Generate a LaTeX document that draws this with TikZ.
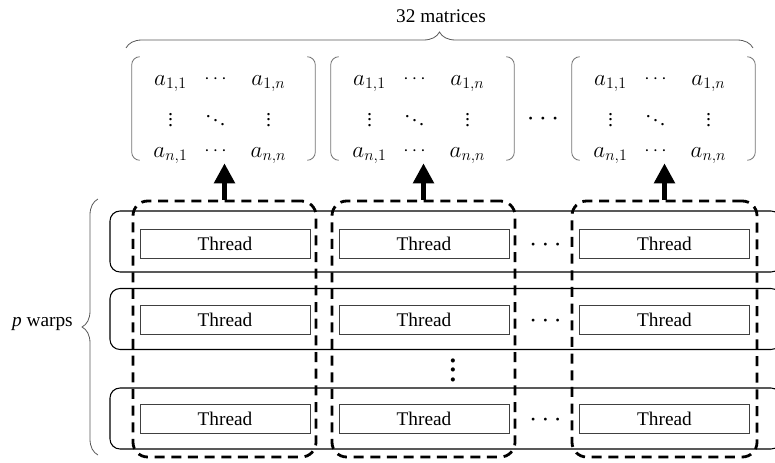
\documentclass[tikz,border=0pt]{standalone}
\usepackage{fontspec}
\setmainfont{Liberation Serif}
\usetikzlibrary{arrows.meta,decorations.pathreplacing,calc}

\tikzset{
  warp/.style={draw=black, line width=0.8pt, rounded corners=7.5pt,
    minimum width=503.25pt, minimum height=45.75pt, inner sep=0pt},
  threadbox/.style={draw=black!75, line width=0.7pt, minimum width=127.5pt,
    minimum height=21.75pt, inner sep=0pt, font=\fontsize{14.5}{16}\selectfont},
  group/.style={draw=black, line width=2.1pt, dash pattern=on 7.5pt off 5pt,
    rounded corners=11pt, minimum height=192pt, inner sep=0pt},
  matbox/.style={minimum width=137.25pt, minimum height=77.25pt, inner sep=0pt},
  paren/.style={draw=black!55, line width=0.6pt, rounded corners=6pt},
  entry/.style={inner sep=0pt, font=\fontsize{16.5}{18}\selectfont},
  mdots/.style={inner sep=0pt, font=\fontsize{15}{18}\selectfont},
  bigdots/.style={inner sep=0pt, font=\fontsize{22}{22}\selectfont},
  braceline/.style={draw=black!65, line width=0.6pt, decorate},
  uparrow/.style={line width=3.75pt, -{Triangle[width=15pt,length=15pt]}, shorten >=2.25pt},
  label/.style={inner sep=0pt, font=\fontsize{14.5}{17}\selectfont}
}

\begin{document}
\begin{tikzpicture}[x=0.75pt, y=0.75pt]
  \useasboundingbox (0,0) rectangle (775,462);
  \clip (0,0) rectangle (775,462);

  % warps (rows)
  \node[warp] (w1) at (445.5,220.5) {};
  \node[warp] (w2) at (445.5,143) {};
  \node[warp] (w3) at (445.5,43.5) {};

  % threads
  \foreach \r/\y in {1/218.5, 2/142.5, 3/43.5} {
    \node[threadbox] (t\r a) at (225,\y) {Thread};
    \node[threadbox] (t\r b) at (424,\y) {Thread};
    \node[threadbox] (t\r c) at (664.5,\y) {Thread};
    \node[bigdots] (h\r) at (545.5,\y-2) {$\cdots$};
  }
  \node[inner sep=0pt] (vd) at (453,99) {\fontsize{14.5}{17}\selectfont\scalebox{1.8}{$\vdots$}};

  % dashed thread groups
  \node[group, minimum width=137.25pt] (g1) at (224.5,133) {};
  \node[group, minimum width=137.25pt] (g2) at (423.5,133) {};
  \node[group, minimum width=138.75pt] (g3) at (664.5,133) {};

  % matrices
  \foreach \i/\cx in {1/223.5, 2/422.5, 3/663.5} {
    \node[matbox] (m\i) at (\cx,353.5) {};
    \draw[paren] ([xshift=6pt]m\i.north west) -- (m\i.north west)
                 -- (m\i.south west) -- ([xshift=6pt]m\i.south west);
    \draw[paren] ([xshift=-6pt]m\i.north east) -- (m\i.north east)
                 -- (m\i.south east) -- ([xshift=-6pt]m\i.south east);
    \node[entry, anchor=base] (e\i11) at (\cx-53,377) {$a_{1,1}$};
    \node[mdots, anchor=base] (e\i12) at (\cx-8,379) {$\cdots$};
    \node[entry, anchor=base] (e\i13) at (\cx+45,377) {$a_{1,n}$};
    \node[mdots] (e\i21) at (\cx-53,346) {$\vdots$};
    \node[mdots] (e\i22) at (\cx-8,346) {$\ddots$};
    \node[mdots] (e\i23) at (\cx+45,346) {$\vdots$};
    \node[entry, anchor=base] (e\i31) at (\cx-53,305) {$a_{n,1}$};
    \node[mdots, anchor=base] (e\i32) at (\cx-8,307) {$\cdots$};
    \node[entry, anchor=base] (e\i33) at (\cx+45,305) {$a_{n,n}$};
  }
  \node[bigdots] (md) at (543,343) {$\cdots$};

  % arrows from thread groups to matrices
  \draw[uparrow] (g1.north) -- (g1.north |- m1.south);
  \draw[uparrow] (g2.north) -- (g2.north |- m2.south);
  \draw[uparrow] (g3.north) -- (g3.north |- m3.south);

  % braces and labels
  \coordinate (tbL) at (126,414);
  \coordinate (tbR) at (753,414);
  \draw[braceline, decoration={brace, amplitude=12pt}] (tbL) -- (tbR);
  \node[label] (nmat) at (441,446) {32 matrices};

  \coordinate (lbB) at (98,7);
  \coordinate (lbT) at (98,263);
  \draw[braceline, decoration={brace, amplitude=12pt}] (lbB) -- (lbT);
  \node[label, anchor=east] (nwarp) at (73,138) {\textit{p} warps};
\end{tikzpicture}
\end{document}
